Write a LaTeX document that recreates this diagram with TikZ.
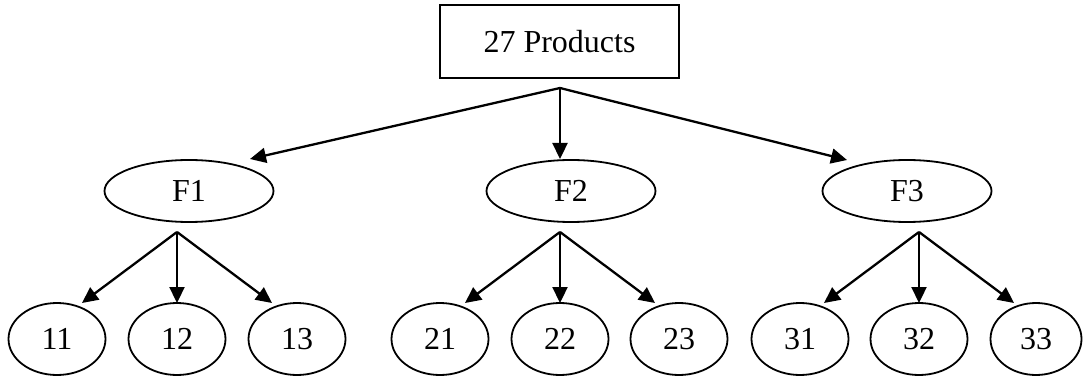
\documentclass[tikz,border=0pt]{standalone}
\usepackage{fontspec}
\setmainfont{Liberation Serif}
\usetikzlibrary{arrows.meta,shapes.geometric}
\begin{document}
\begin{tikzpicture}[x=1pt,y=-1pt,
  tx/.style={font=\fontsize{32}{38}\selectfont},
  rootbox/.style={draw, line width=1.8pt, minimum width=239pt, minimum height=73pt, inner sep=0pt, tx},
  fam/.style={draw, line width=1.8pt, ellipse, minimum width=169pt, minimum height=62pt, inner sep=0pt, tx},
  leaf/.style={draw, line width=1.8pt, ellipse, minimum width=97pt, minimum height=72pt, inner sep=0pt, tx},
  link/.style={line width=2.3pt, -{Triangle[length=16pt,width=15pt]}}]
\useasboundingbox (0,0) rectangle (1083,379);

% root box and the three families
\node[rootbox] (root) at (559.5,41.5) {27 Products};
\node[fam] (f1) at (189,191) {F1};
\node[fam] (f2) at (571,191) {F2};
\node[fam] (f3) at (907,191) {F3};

% products of each family
\node[leaf] (p11) at (57,339) {11};
\node[leaf] (p12) at (177,339) {12};
\node[leaf] (p13) at (297,339) {13};
\node[leaf] (p21) at (440,339) {21};
\node[leaf] (p22) at (560,339) {22};
\node[leaf] (p23) at (679,339) {23};
\node[leaf] (p31) at (800,339) {31};
\node[leaf] (p32) at (919,339) {32};
\node[leaf, minimum width=91pt] (p33) at (1036,339) {33};

% branching points and arrow tips
\coordinate (r) at (560,88);
\coordinate (t1) at (250,159);
\coordinate (t2) at (560,159);
\coordinate (t3) at (847,160);

\coordinate (a1) at (177,232);
\coordinate (a2) at (560,232);
\coordinate (a3) at (919,232);

\coordinate (e11) at (82,303);
\coordinate (e12) at (177,303);
\coordinate (e13) at (272,303);
\coordinate (e21) at (465,303);
\coordinate (e22) at (560,303);
\coordinate (e23) at (655,303);
\coordinate (e31) at (824,303);
\coordinate (e32) at (919,303);
\coordinate (e33) at (1014,303);

% arrows
\draw[link] (r) -- (t1);
\draw[link] (r) -- (t2);
\draw[link] (r) -- (t3);

\draw[link] (a1) -- (e11);
\draw[link] (a1) -- (e12);
\draw[link] (a1) -- (e13);
\draw[link] (a2) -- (e21);
\draw[link] (a2) -- (e22);
\draw[link] (a2) -- (e23);
\draw[link] (a3) -- (e31);
\draw[link] (a3) -- (e32);
\draw[link] (a3) -- (e33);
\end{tikzpicture}
\end{document}
